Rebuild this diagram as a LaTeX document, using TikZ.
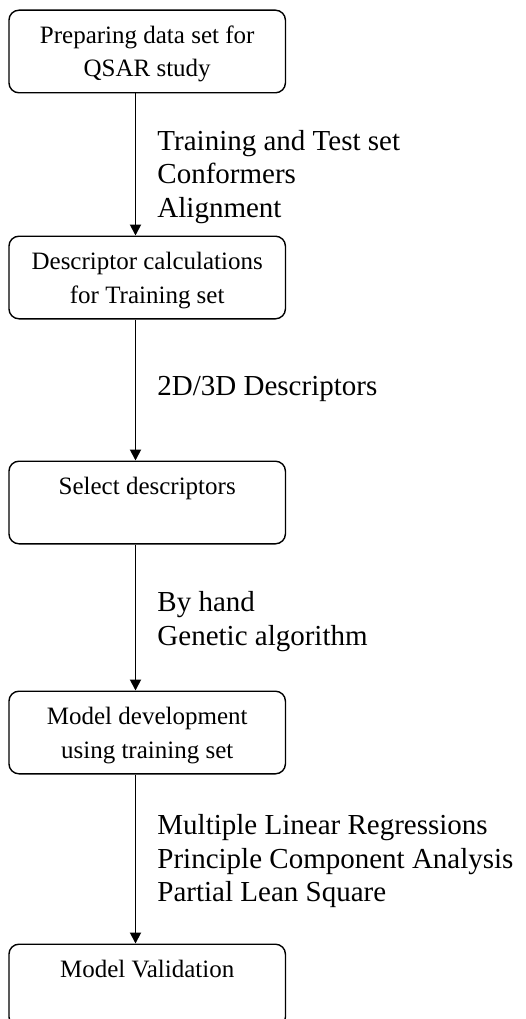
\documentclass[tikz,border=0pt]{standalone}
\usepackage{fontspec}
\setmainfont{Liberation Serif}
\usetikzlibrary{positioning,arrows.meta}

\newcommand\rowstrut{\rule[-8pt]{0pt}{33.5pt}}

\tikzset{
  stepbox/.style={draw, rounded corners=10pt, line width=1.4pt,
    minimum width=276.5pt, minimum height=82.6pt, inner sep=0pt,
    align=center, font=\fontsize{25}{33.5}\selectfont},
  flow/.style={line width=1.9pt, -{Triangle[length=11pt,width=11pt]}},
  lbl/.style={inner sep=0pt, align=left, font=\fontsize{29}{33.5}\selectfont}
}

\begin{document}
\begin{tikzpicture}[x=1pt,y=1pt]
  \clip (0,0) rectangle (525,-1019);
  % steps of the workflow
  \node[stepbox] (prep) at (147.2,-51.5) {\rowstrut Preparing data set for\\\rowstrut QSAR study};
  \node[stepbox, below=142pt of prep] (calc) {\rowstrut Descriptor calculations\\\rowstrut for Training set};
  \node[stepbox, below=141pt of calc] (select) {\rowstrut Select descriptors\\\rowstrut};
  \node[stepbox, below=146pt of select] (model) {\rowstrut Model development\\\rowstrut using training set};
  \node[stepbox, below=169pt of model] (valid) {\rowstrut Model Validation\\\rowstrut};

  % connectors with their methods
  \draw[flow] ([xshift=-11.7pt]prep.south) -- ([xshift=-11.7pt]calc.north)
    node[lbl, midway, right=21pt, yshift=-12.5pt] {Training and Test set\\Conformers\\Alignment};
  \draw[flow] ([xshift=-11.7pt]calc.south) -- ([xshift=-11.7pt]select.north)
    node[lbl, midway, right=21pt, yshift=1pt] {2D/3D Descriptors};
  \draw[flow] ([xshift=-11.7pt]select.south) -- ([xshift=-11.7pt]model.north)
    node[lbl, midway, right=21pt, yshift=-4pt] {By hand\\Genetic algorithm};
  \draw[flow] ([xshift=-11.7pt]model.south) -- ([xshift=-11.7pt]valid.north)
    node[lbl, midway, right=21pt, yshift=-2.5pt] {Multiple Linear Regressions\\Principle Component Analysis\\Partial Lean Square};
\end{tikzpicture}
\end{document}
